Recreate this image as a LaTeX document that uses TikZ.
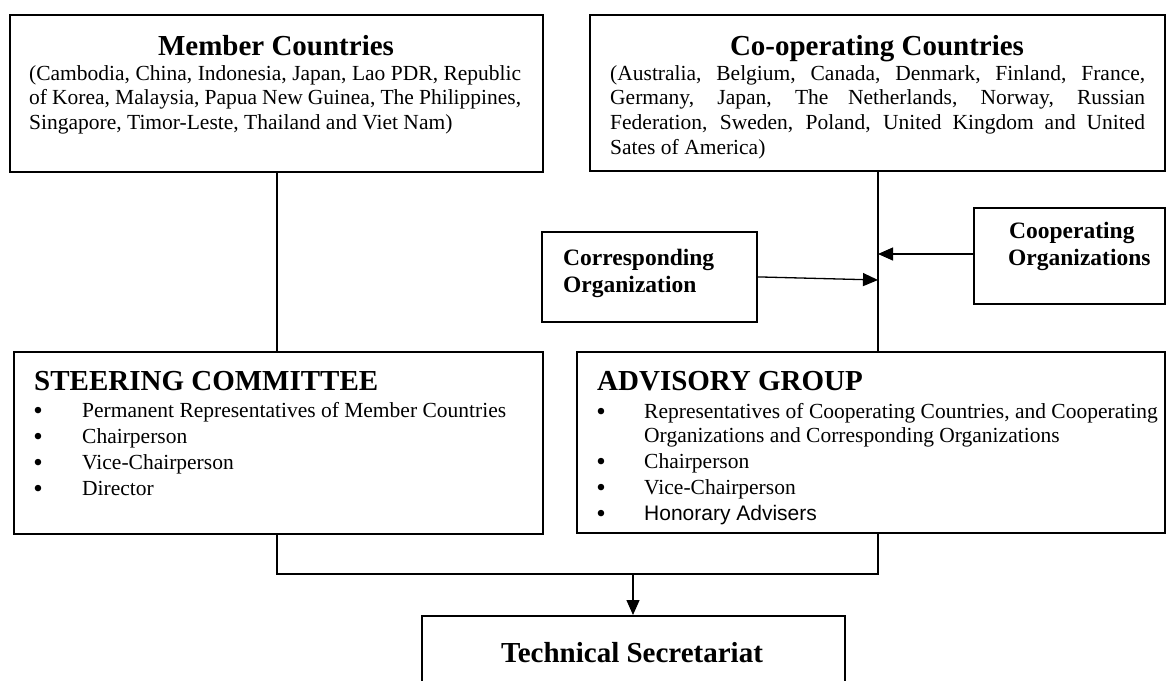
\documentclass[tikz,border=0pt]{standalone}
\usepackage{fontspec}
\setmainfont{Liberation Serif}
\newfontfamily\arialfont{Liberation Sans}
\usetikzlibrary{arrows.meta}
\begin{document}
\begin{tikzpicture}[x=1pt,y=-1pt,
  box/.style={draw, line width=1.8pt, inner sep=0pt, anchor=north west},
  conn/.style={line width=1.3pt},
  arr/.style={conn, -{Triangle[length=15pt,width=13pt]}},
  txt/.style={anchor=base west, inner sep=0pt, font=\fontsize{21.5}{24.7}\selectfont},
  ttl/.style={inner sep=0pt, font=\bfseries\fontsize{29}{33}\selectfont},
  otl/.style={anchor=base west, inner sep=0pt, font=\bfseries\fontsize{23.5}{27}\selectfont},
  bul/.style={anchor=base, inner sep=0pt, font=\fontsize{27}{30}\selectfont},
]
\useasboundingbox (0,0) rectangle (1167,680);
\clip (0,0) rectangle (1167,680);

% boxes
\node[box, minimum width=533pt, minimum height=157pt] (member) at (9,14) {};
\node[box, minimum width=575pt, minimum height=156pt] (coop) at (589,14) {};
\node[box, minimum width=215pt, minimum height=90pt] (corr) at (541,231) {};
\node[box, minimum width=191pt, minimum height=96pt] (coorg) at (973,207) {};
\node[box, minimum width=529pt, minimum height=182pt] (sc) at (13,351) {};
\node[box, minimum width=588pt, minimum height=181pt] (ag) at (576,351) {};
\node[box, minimum width=423pt, minimum height=120pt] (ts) at (421,615) {};

% member countries
\node[ttl, anchor=base] (memberT) at (276,55) {Member Countries};
\node[txt] (memberL1) at (29,80) {\makebox[492pt][s]{(Cambodia, China, Indonesia, Japan, Lao PDR, Republic}};
\node[txt] (memberL2) at (29,104.7) {\makebox[492pt][s]{of Korea, Malaysia, Papua New Guinea, The Philippines,}};
\node[txt] (memberL3) at (29,129.4) {Singapore, Timor-Leste, Thailand and Viet Nam)};

% co-operating countries
\node[ttl, anchor=base] (coopT) at (877,55) {Co-operating Countries};
\node[txt] (coopL1) at (610,80) {\makebox[535pt][s]{(Australia, Belgium, Canada, Denmark, Finland, France,}};
\node[txt] (coopL2) at (610,104.7) {\makebox[535pt][s]{Germany, Japan, The Netherlands, Norway, Russian}};
\node[txt] (coopL3) at (610,129.4) {\makebox[535pt][s]{Federation, Sweden, Poland, United Kingdom and United}};
\node[txt] (coopL4) at (610,154.1) {Sates of America)};

% organizations
\node[otl] (corrL1) at (563,265) {Corresponding};
\node[otl] (corrL2) at (563,292) {Organization};
\node[otl] (coorgL1) at (1009,238) {Cooperating};
\node[otl] (coorgL2) at (1008,265) {Organizations};

% steering committee
\node[ttl, anchor=base west] (scT) at (34,390) {STEERING COMMITTEE};
\node[bul] (scB1) at (38,419) {•};
\node[txt] (scL1) at (82,417) {Permanent Representatives of Member Countries};
\node[bul] (scB2) at (38,445) {•};
\node[txt] (scL2) at (82,443) {Chairperson};
\node[bul] (scB3) at (38,471) {•};
\node[txt] (scL3) at (82,469) {Vice-Chairperson};
\node[bul] (scB4) at (38,497) {•};
\node[txt] (scL4) at (82,495) {Director};

% advisory group
\node[ttl, anchor=base west] (agT) at (597,390) {ADVISORY GROUP};
\node[bul] (agB1) at (601,420) {•};
\node[txt] (agL1) at (644,418) {Representatives of Cooperating Countries, and Cooperating};
\node[txt] (agL1b) at (644,442) {Organizations and Corresponding Organizations};
\node[bul] (agB2) at (601,470) {•};
\node[txt] (agL2) at (644,468) {Chairperson};
\node[bul] (agB3) at (601,496) {•};
\node[txt] (agL3) at (644,494) {Vice-Chairperson};
\node[bul] (agB4) at (601,522) {•};
\node[txt, font=\arialfont\fontsize{21}{24}\selectfont] (agL4) at (644,520) {Honorary Advisers};

% technical secretariat
\node[ttl, anchor=base] (tsT) at (632,662) {Technical Secretariat};

% junction coordinates
\coordinate (jA) at (878,254);
\coordinate (jB) at (878,280);
\coordinate (jL) at (277,574);
\coordinate (jR) at (878,574);
\coordinate (jC) at (633,574);

% connectors
\draw[conn] (member.south -| jL) -- (sc.north -| jL);
\draw[conn] (coop.south -| jA) -- (ag.north -| jA);
\draw[arr] (coorg.west |- jA) -- (jA);
\draw[arr] (corr.east) -- (jB);
\draw[conn] (sc.south -| jL) -- (jL) -- (jR) -- (ag.south -| jR);
\draw[arr] (jC) -- (ts.north -| jC);
\end{tikzpicture}
\end{document}
